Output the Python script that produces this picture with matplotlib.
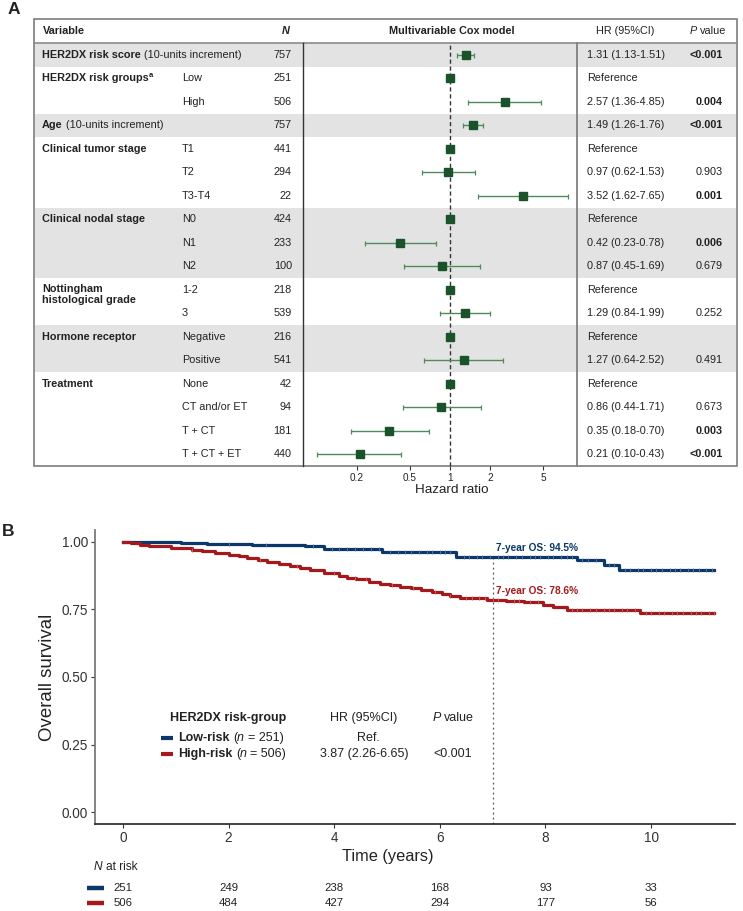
import numpy as np
import matplotlib
matplotlib.use("Agg")
import matplotlib.pyplot as plt
from matplotlib.patches import Rectangle

plt.rcParams['font.family'] = ['Liberation Sans', 'DejaVu Sans']

# ---------------- panel A data ----------------
groups = ["HER2DX risk score", "HER2DX risk groups", "Age", "Clinical tumor stage",
          "Clinical nodal stage", "Nottingham\nhistological grade", "Hormone receptor", "Treatment"]
group_sizes = [1, 2, 1, 3, 3, 2, 2, 4]
group_shaded = [True, False, True, False, True, False, True, False]
levels = ["", "Low", "High", "", "T1", "T2", "T3-T4", "N0", "N1", "N2", "1-2", "3",
          "Negative", "Positive", "None", "CT and/or ET", "T + CT", "T + CT + ET"]
n_obs = [757, 251, 506, 757, 441, 294, 22, 424, 233, 100, 218, 539, 216, 541, 42, 94, 181, 440]
hr = [1.31, 1, 2.57, 1.49, 1, 0.97, 3.52, 1, 0.42, 0.87, 1, 1.29, 1, 1.27, 1, 0.86, 0.35, 0.21]
hr_lo = [1.13, np.nan, 1.36, 1.26, np.nan, 0.62, 1.62, np.nan, 0.23, 0.45, np.nan, 0.84,
         np.nan, 0.64, np.nan, 0.44, 0.18, 0.10]
hr_hi = [1.51, np.nan, 4.85, 1.76, np.nan, 1.53, 7.65, np.nan, 0.78, 1.69, np.nan, 1.99,
         np.nan, 2.52, np.nan, 1.71, 0.70, 0.43]
pvals = ["<0.001", "", "0.004", "<0.001", "", "0.903", "0.001", "", "0.006", "0.679", "",
         "0.252", "", "0.491", "", "0.673", "0.003", "<0.001"]
p_bold = [True, False, True, True, False, False, True, False, True, False, False, False,
          False, False, False, False, True, True]
hr_ticks = [0.2, 0.5, 1, 2, 5]

# ---------------- panel B data ----------------
low_t = [0, 1.1, 1.6, 2.45, 3.45, 3.8, 4.9, 6.3, 8.6, 9.1, 9.4, 11.2]
low_s = [1.0, 0.995, 0.991, 0.988, 0.984, 0.975, 0.962, 0.945, 0.932, 0.915, 0.895, 0.895]
high_t = [0, 0.15, 0.32, 0.5, 0.68, 0.9, 1.1, 1.3, 1.5, 1.75, 2.0, 2.2, 2.35, 2.55, 2.72,
          2.95, 3.16, 3.35, 3.55, 3.8, 4.1, 4.25, 4.42, 4.65, 4.87, 5.05, 5.25, 5.45, 5.65,
          5.85, 6.05, 6.2, 6.38, 6.9, 7.25, 7.6, 7.95, 8.15, 8.4, 9.8, 11.2]
high_s = [1.0, 0.995, 0.989, 0.986, 0.983, 0.979, 0.976, 0.971, 0.965, 0.96, 0.953, 0.947,
          0.94, 0.934, 0.927, 0.918, 0.909, 0.903, 0.896, 0.884, 0.872, 0.866, 0.861, 0.853,
          0.845, 0.839, 0.834, 0.829, 0.822, 0.814, 0.806, 0.8, 0.794, 0.786, 0.782, 0.776,
          0.766, 0.758, 0.749, 0.738, 0.738]
low_cens = [2.0, 2.7, 3.6, 3.95, 4.1, 4.25, 4.4, 4.55, 4.7, 4.85, 5.05, 5.2, 5.35, 5.45, 5.6,
            5.75, 5.85, 6.0, 6.1, 6.2, 6.45, 6.55, 6.7, 6.8, 6.95, 7.1, 7.2, 7.3, 7.45, 7.55,
            7.7, 7.8, 7.9, 8.05, 8.15, 8.3, 8.4, 8.5, 8.7, 8.8, 8.95, 9.2, 9.3, 9.5, 9.6, 9.75,
            9.85, 10.0, 10.1, 10.2, 10.35, 10.45, 10.55, 10.7, 10.8, 10.9, 11.05, 11.15]
high_cens = [1.3, 2.6, 3.3, 4.0, 4.4, 4.6, 5.1, 5.5, 5.9, 6.2, 6.5, 6.6, 6.75, 6.85, 7.0, 7.1,
             7.4, 7.5, 7.7, 7.85, 8.5, 8.6, 8.7, 8.85, 8.95, 9.1, 9.2, 9.3, 9.45, 9.55, 9.7,
             9.9, 10.0, 10.15, 10.25, 10.4, 10.5, 10.6, 10.75, 10.85, 10.95, 11.1, 11.2]
risk_times = [0, 2, 4, 6, 8, 10]
risk_low = [251, 249, 238, 168, 93, 33]
risk_high = [506, 484, 427, 294, 177, 56]
os7_low, os7_high = 94.5, 78.6

BLUE = '#0b3868'
RED = '#a3191c'
GREEN = '#1a5229'
GREEN_CI = '#4f8a5a'
TXT = '#222222'

W, H = 743, 911
fig = plt.figure(figsize=(W / 100, H / 100), dpi=100)

# overlay in pixel coordinates for table texts
ov = fig.add_axes([0, 0, 1, 1], zorder=0)
ov.set_xlim(0, W)
ov.set_ylim(H, 0)
ov.axis('off')
renderer = fig.canvas.get_renderer()


def text_w(s, size, weight='normal', style='normal'):
    t = ov.text(0, 0, s, fontsize=size, fontweight=weight, fontstyle=style)
    w = t.get_window_extent(renderer).width
    t.remove()
    return w


def adv_w(s, size, weight='normal', style='normal'):
    # advance width, side bearings included
    return text_w("|" + s + "|", size, weight, style) - text_w("||", size, weight, style)


def rich(x, y, parts, size, ha='left', color=TXT):
    # parts: (text, weight, style[, scale, dy])
    sp = adv_w(" ", size)
    items = []
    for p in parts:
        s, wgt, sty = p[0], p[1], p[2]
        sc = p[3] if len(p) > 3 else 1.0
        dy = p[4] if len(p) > 4 else 0
        core = s.strip()
        lead = (len(s) - len(s.lstrip())) * sp
        trail = (len(s) - len(s.rstrip())) * sp
        w = adv_w(core, size * sc, wgt, sty) if core else 0
        items.append((core, wgt, sty, sc, dy, lead, w, trail))
    total = sum(i[5] + i[6] + i[7] for i in items)
    cx = x if ha == 'left' else (x - total / 2 if ha == 'center' else x - total)
    for core, wgt, sty, sc, dy, lead, w, trail in items:
        cx += lead
        if core:
            ov.text(cx, y + dy, core, fontsize=size * sc, fontweight=wgt, fontstyle=sty,
                    va='center', ha='left', color=color)
        cx += w + trail


# ---------------- panel A: table ----------------
box_l, box_r, box_t, head_b, box_b = 34, 737, 19, 43, 466
n_rows = len(levels)
row_h = (box_b - head_b) / n_rows
row_y = [head_b + row_h * (i + 0.5) for i in range(n_rows)]
FS = 7.8

start = 0
for g, size, shade in zip(groups, group_sizes, group_shaded):
    if shade:
        ov.add_patch(Rectangle((box_l + 1, head_b + row_h * start), box_r - box_l - 2,
                               row_h * size, facecolor='#e3e3e3', edgecolor='none', zorder=0))
    yg = row_y[start]
    if g == "HER2DX risk score":
        rich(42, yg, [("HER2DX risk score", 'bold', 'normal'),
                      (" (10-units increment)", 'normal', 'normal')], FS)
    elif g == "Age":
        rich(42, yg, [("Age", 'bold', 'normal'), (" (10-units increment)", 'normal', 'normal')], FS)
    elif g == "HER2DX risk groups":
        rich(42, yg, [("HER2DX risk groups", 'bold', 'normal'), ("a", 'bold', 'normal', 0.7, -3)], FS)
    elif "\n" in g:
        ov.text(42, yg - 6, g, fontsize=FS, fontweight='bold', va='top', ha='left',
                color=TXT, linespacing=1.15)
    else:
        ov.text(42, yg, g, fontsize=FS, fontweight='bold', va='center', ha='left', color=TXT)
    start += size

for i in range(n_rows):
    y = row_y[i]
    if levels[i]:
        ov.text(182, y, levels[i], fontsize=FS, va='center', ha='left', color=TXT)
    ov.text(292, y, str(n_obs[i]), fontsize=FS, va='center', ha='right', color=TXT)
    if np.isnan(hr_lo[i]):
        ov.text(587, y, "Reference", fontsize=FS, va='center', ha='left', color=TXT)
    else:
        ov.text(587, y, f"{hr[i]:.2f} ({hr_lo[i]:.2f}-{hr_hi[i]:.2f})", fontsize=FS,
                va='center', ha='left', color=TXT)
    if pvals[i]:
        ov.text(723, y, pvals[i], fontsize=FS, va='center', ha='right', color=TXT,
                fontweight='bold' if p_bold[i] else 'normal')

# header
hy = (box_t + head_b) / 2
ov.text(43, hy, "Variable", fontsize=FS, fontweight='bold', va='center', ha='left', color=TXT)
ov.text(286, hy, "N", fontsize=FS, fontweight='bold', fontstyle='italic', va='center',
        ha='center', color=TXT)
ov.text(452, hy, "Multivariable Cox model", fontsize=FS, fontweight='bold', va='center',
        ha='center', color=TXT)
ov.text(625, hy, "HR (95%CI)", fontsize=FS, va='center', ha='center', color=TXT)
rich(708, hy, [("P", 'normal', 'italic'), (" value", 'normal', 'normal')], FS, ha='center')

ov.add_patch(Rectangle((box_l, box_t), box_r - box_l, box_b - box_t, fill=False,
                       edgecolor='#7d7d7d', lw=1.2, zorder=3))
ov.plot([box_l, box_r], [head_b, head_b], color='#8a8a8a', lw=1.2, zorder=3)
ov.plot([303, 303], [head_b, box_b], color='#333333', lw=1.0, zorder=3)
ov.plot([577, 577], [head_b, box_b], color='#808080', lw=1.3, zorder=3)

ov.text(8, 9, "A", fontsize=12.5, fontweight='bold', va='center', ha='left', color=TXT)
ov.text(2, 531, "B", fontsize=12.5, fontweight='bold', va='center', ha='left', color=TXT)

# ---------------- panel A: forest ----------------
axf = fig.add_axes([303 / W, 1 - box_b / H, (577 - 303) / W, (box_b - head_b) / H], zorder=2)
axf.set_facecolor('none')
axf.set_xscale('log')
axf.set_xlim(0.0785, 9.0)
axf.set_ylim(n_rows - 0.5, -0.5)
ypos = np.arange(n_rows)
lo = np.array(hr_lo)
hi = np.array(hr_hi)
has_ci = ~np.isnan(lo)
axf.errorbar(np.array(hr)[has_ci], ypos[has_ci],
             xerr=[np.array(hr)[has_ci] - lo[has_ci], hi[has_ci] - np.array(hr)[has_ci]],
             fmt='none', ecolor=GREEN_CI, elinewidth=1.0, capsize=1.8, capthick=0.9, zorder=2)
axf.plot(hr, ypos, 's', color=GREEN, markersize=6.2, zorder=3)
axf.axvline(1, color='#333333', lw=1.0, ls=(0, (3, 2)), zorder=1)
for s in axf.spines.values():
    s.set_visible(False)
axf.set_yticks([])
axf.set_xticks(hr_ticks)
axf.set_xticklabels([f"{t:g}" for t in hr_ticks])
axf.xaxis.set_minor_locator(matplotlib.ticker.NullLocator())
axf.tick_params(axis='x', length=3, width=0.8, color='#333333', labelsize=7.2,
                labelcolor=TXT, pad=2)
ov.text(452, 490, "Hazard ratio", fontsize=9.7, va='center', ha='center', color=TXT)

# ---------------- panel B: Kaplan-Meier ----------------
km_l, km_r, km_t, km_b = 95, 735, 530, 824
axk = fig.add_axes([km_l / W, 1 - km_b / H, (km_r - km_l) / W, (km_b - km_t) / H], zorder=2)
axk.set_facecolor('none')
axk.set_xlim(-0.53, 11.59)
axk.set_ylim(-0.044, 1.044)


def surv_at(tt, ss, t):
    idx = np.searchsorted(tt, t, side='right') - 1
    return np.array(ss)[idx]


axk.step(low_t, low_s, where='post', color=BLUE, lw=2.3, zorder=3)
axk.step(high_t, high_s, where='post', color=RED, lw=2.3, zorder=3)
axk.plot(low_cens, surv_at(low_t, low_s, low_cens), '|', color='#5d7fa6', ms=2.6, mew=0.6, zorder=4)
axk.plot(high_cens, surv_at(high_t, high_s, high_cens), '|', color='#c8676a', ms=2.6, mew=0.6, zorder=4)
axk.plot([7, 7], [-0.044, 0.945], color='#555555', lw=0.9, ls=(0, (1.5, 2.5)), zorder=2)
axk.text(7.07, 0.979, f"7-year OS: {os7_low}%", color=BLUE, fontsize=7.3, fontweight='bold',
         va='center', ha='left')
axk.text(7.07, 0.82, f"7-year OS: {os7_high}%", color=RED, fontsize=7.3, fontweight='bold',
         va='center', ha='left')

axk.set_xticks(risk_times)
axk.set_yticks([0, 0.25, 0.5, 0.75, 1.0])
axk.set_yticklabels(["0.00", "0.25", "0.50", "0.75", "1.00"])
axk.tick_params(length=3, width=0.8, color='#333333', labelsize=9.8, labelcolor='#333333', pad=2)
for side in ['top', 'right']:
    axk.spines[side].set_visible(False)
axk.spines['left'].set_color('#7a7a7a')
axk.spines['left'].set_linewidth(1.3)
axk.spines['bottom'].set_color('#222222')
axk.spines['bottom'].set_linewidth(1.2)

ov.text(47, 677, "Overall survival", fontsize=13.4, rotation=90, va='center', ha='center',
        color=TXT)
ov.text(388, 856, "Time (years)", fontsize=11.8, va='center', ha='center', color=TXT)

# legend inside the plot
LF = 9
ov.text(228, 718, "HER2DX risk-group", fontsize=LF, fontweight='bold', va='center', ha='center',
        color=TXT)
ov.text(364, 718, "HR (95%CI)", fontsize=LF, va='center', ha='center', color=TXT)
rich(453, 718, [("P", 'normal', 'italic'), (" value", 'normal', 'normal')], LF, ha='center')
ov.plot([160.5, 172.5], [738, 738], color=BLUE, lw=3, solid_capstyle='butt')
ov.plot([160.5, 172.5], [754, 754], color=RED, lw=3, solid_capstyle='butt')
rich(178, 738, [("Low-risk", 'bold', 'normal'), (" (", 'normal', 'normal'), ("n", 'normal', 'italic'),
                (" = 251)", 'normal', 'normal')], LF)
rich(178, 754, [("High-risk", 'bold', 'normal'), (" (", 'normal', 'normal'), ("n", 'normal', 'italic'),
                (" = 506)", 'normal', 'normal')], LF)
ov.text(368, 738, "Ref.", fontsize=LF, va='center', ha='center', color=TXT)
ov.text(364, 754, "3.87 (2.26-6.65)", fontsize=LF, va='center', ha='center', color=TXT)
ov.text(453, 754, "<0.001", fontsize=LF, va='center', ha='center', color=TXT)

# number at risk table
rich(94, 867, [("N", 'normal', 'italic'), (" at risk", 'normal', 'normal')], 8.6)
x_px = lambda t: km_l + (t + 0.53) / (11.59 + 0.53) * (km_r - km_l)
ov.plot([87, 104], [888, 888], color=BLUE, lw=3.2, solid_capstyle='butt')
ov.plot([87, 104], [903, 903], color=RED, lw=3.2, solid_capstyle='butt')
for t, a, b in zip(risk_times, risk_low, risk_high):
    ov.text(x_px(t), 888, str(a), fontsize=8.2, va='center', ha='center', color=TXT)
    ov.text(x_px(t), 903, str(b), fontsize=8.2, va='center', ha='center', color=TXT)

fig.savefig("out.png", dpi=100)
